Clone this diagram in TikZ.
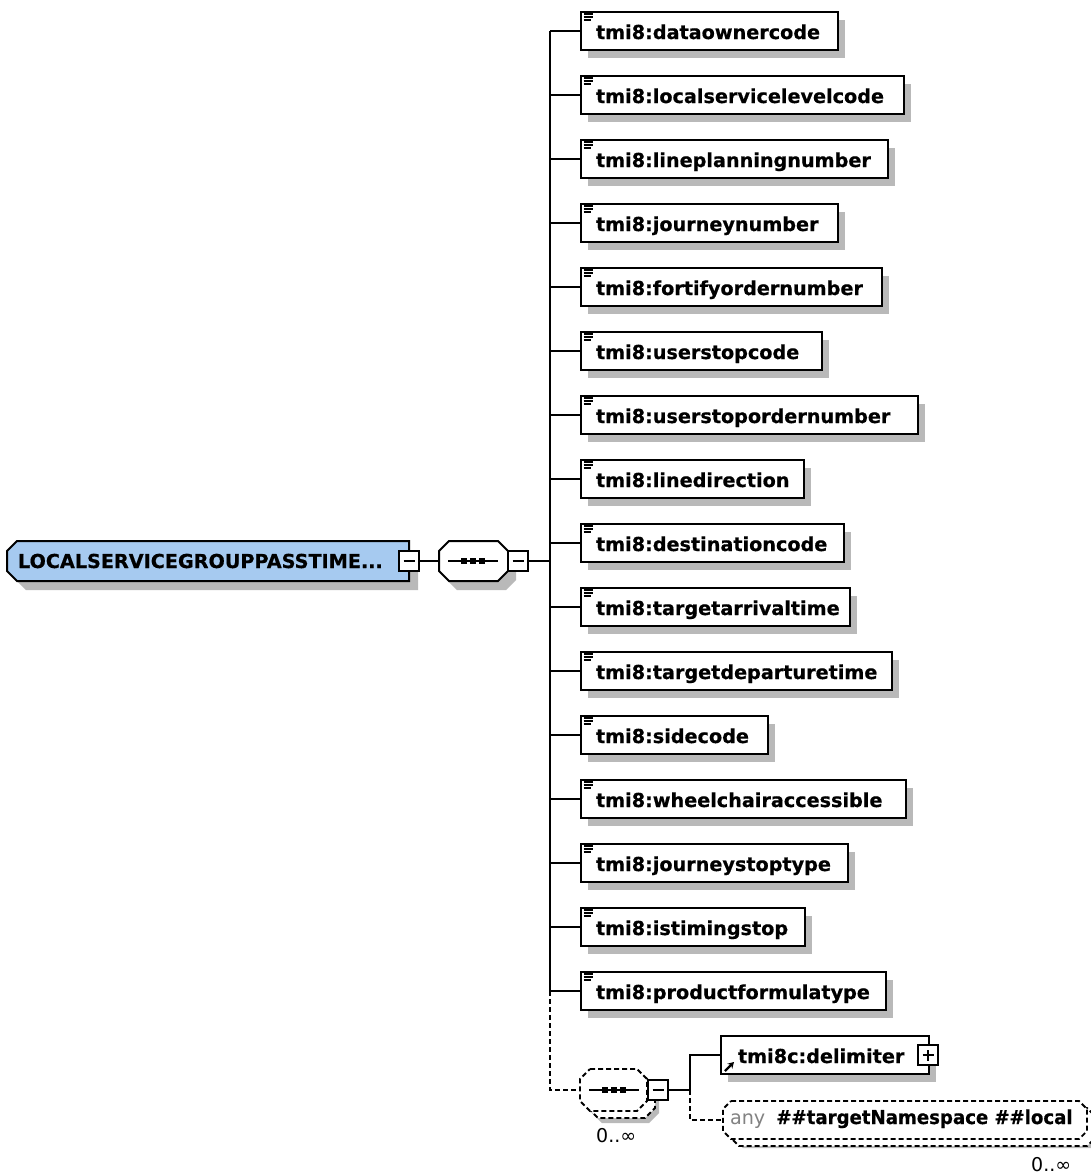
\documentclass[tikz,border=0pt]{standalone}
\usepackage{fontspec}
\usepackage{graphicx}
\setmainfont{DejaVu Sans}[BoldFeatures={FakeBold=0.6}]
\usetikzlibrary{calc,arrows.meta}

\definecolor{shadowgray}{RGB}{185,185,185}
\definecolor{rootfill}{RGB}{166,202,240}
\definecolor{anygray}{RGB}{130,130,130}

\newcommand\diagfont{\fontsize{19.2}{23}\selectfont\bfseries}
\newcommand\occfont{\fontsize{19}{22}\selectfont}

% octagon from (x1,y1) to (x2,y2) with chamfer c: [style]{x1}{y1}{x2}{y2}{c}
\newcommand\octagon[6][]{%
  \path[#1] (#2+#6,#3) -- (#4-#6,#3) -- (#4,#3+#6) -- (#4,#5-#6) --
    (#4-#6,#5) -- (#2+#6,#5) -- (#2,#5-#6) -- (#2,#3+#6) -- cycle;}

% sequence symbol: a line with three dots, centred at (x,y)
\newcommand\seqsymbol[2]{%
  \draw[line width=2pt, solid] (#1-25,#2) -- (#1+25,#2);
  \foreach \d in {-9,0,9}
    \fill (#1+\d-3,#2-3) rectangle (#1+\d+3,#2+3);}

\tikzset{
  conn/.style={line width=2pt, black},
  optconn/.style={conn, dash pattern=on 5pt off 3pt},
  outline/.style={draw, line width=2pt, fill=white},
  dashoutline/.style={draw, line width=1.8pt, fill=white, dash pattern=on 5pt off 3pt},
  frame/.style={rectangle, draw=none, inner sep=0pt},
  elem/.style={draw, line width=2pt, fill=white, rectangle, anchor=west,
    minimum height=38pt, inner xsep=15pt, inner ysep=0pt,
    text height=18pt, text depth=2pt, align=left, font=\diagfont},
  btn/.style={draw=black, solid, fill=white, line width=2pt, minimum size=20pt, inner sep=0pt,
    path picture={\draw[line width=2pt, black, solid]
      ([xshift=-5.5pt]path picture bounding box.center) --
      ([xshift=5.5pt]path picture bounding box.center);}},
  plusbtn/.style={draw=black, solid, fill=white, line width=2pt, minimum size=20pt, inner sep=0pt,
    path picture={\draw[line width=2pt, black, solid]
      ([xshift=-5.5pt]path picture bounding box.center) --
      ([xshift=5.5pt]path picture bounding box.center)
      ([yshift=-5.5pt]path picture bounding box.center) --
      ([yshift=5.5pt]path picture bounding box.center);}},
  occ/.style={font=\occfont, anchor=west, inner sep=0pt},
}

\begin{document}
\begin{tikzpicture}[x=1pt, y=-1pt]
\useasboundingbox (0,0) rectangle (1091,1176);
\fill[white] (0,0) rectangle (1091,1176);

% ---- root element ----
\fill[shadowgray] (26,550) -- (418,550) -- (418,590) -- (26,590) -- (16,580) -- (16,560) -- cycle;
\draw[line width=2pt, fill=rootfill] (17,541) -- (409,541) -- (409,581) -- (17,581) -- (7,571) -- (7,551) -- cycle;
\node[frame, font=\diagfont, text width=380pt, align=left, minimum width=402pt,
      minimum height=40pt, text height=16pt, text depth=2pt] (root) at (208,561)
      {LOCALSERVICEGROUPPASSTIME...};
\node[btn] (rb) at (409,561) {};

% ---- sequence compositor ----
\octagon[fill=shadowgray]{447}{550}{516}{590}{10}
\octagon[outline]{439}{541}{508}{581}{10}
\node[frame, minimum width=69pt, minimum height=40pt] (seq) at (473.5,561) {};
\seqsymbol{473}{561}
\node[btn] (sb) at (518,561) {};

\draw[conn] (rb.east) -- (seq.west);
\coordinate (tk) at (550,0);
\draw[conn] (sb.east) -- (tk |- sb.east);

% ---- child elements ----
\foreach \nm/\w [count=\i] in {dataownercode/257, localservicelevelcode/323,
    lineplanningnumber/307, journeynumber/257, fortifyordernumber/301,
    userstopcode/241, userstopordernumber/337, linedirection/223,
    destinationcode/263, targetarrivaltime/269, targetdeparturetime/311,
    sidecode/187, wheelchairaccessible/325, journeystoptype/267,
    istimingstop/224, productformulatype/305}{
  \pgfmathsetmacro\yc{31+64*(\i-1)}
  \pgfmathsetmacro\tw{\w-30}
  \fill[shadowgray] (588,\yc-11) rectangle (580+\w+8,\yc+27);
  \node[elem, text width=\tw pt] (e\i) at (580,\yc) {tmi8:\nm};
  \foreach \dy/\len in {3/9,6/9,9/7}
    \draw[line width=1.4pt] ($(e\i.north west)+(3.5,\dy)$) -- +(\len,0);
  \draw[conn] (tk |- e\i.west) -- (e\i.west);
}
\draw[conn] (tk |- e1.west) -- (tk |- e16.west);

% ---- optional repeated sequence ----
\octagon[fill=shadowgray]{592}{1082}{659}{1123}{10}
\octagon[dashoutline]{588}{1077}{655}{1118}{10}
\octagon[dashoutline]{580}{1069}{647}{1111}{10}
\node[frame, minimum width=67pt, minimum height=42pt] (oseq) at (613.5,1090) {};
\seqsymbol{614}{1090}
\node[btn] (ob) at (658,1090) {};
\node[occ] (occ1) at (596,1136) {0..∞};

\draw[optconn] (tk |- e16.west) -- (tk |- oseq.west) -- (oseq.west);

% ---- delimiter reference ----
\fill[shadowgray] (728,1044) rectangle (936,1082);
\node[elem, inner xsep=17pt, text width=174pt] (del) at (720,1055) {tmi8c:delimiter};
\draw[line width=2.2pt, -{Stealth[length=6pt,width=7pt]}]
  ($(del.south west)+(5,-4)$) -- +(9,-9);
\node[plusbtn] (db) at (928,1055) {};

% ---- any wildcard ----
\octagon[fill=shadowgray]{735}{1110}{1099}{1148}{8}
\octagon[dashoutline]{731}{1108}{1095}{1146}{8}
\octagon[dashoutline]{723}{1101}{1087}{1139}{8}
\node[frame, font=\diagfont, text width=350pt, align=left, minimum width=364pt,
      minimum height=38pt, text height=14pt, text depth=6pt] (any) at (905,1120)
      {{\mdseries\color{anygray}any}\hspace{11pt}\scalebox{0.945}[1]{\#\#targetNamespace \#\#local}};
\node[occ] (occ2) at (1031,1165) {0..∞};

\coordinate (fork) at (690,1090);
\draw[conn] (ob.east) -- (fork) |- (del.west);
\draw[optconn] (fork) |- (any.west);
\end{tikzpicture}
\end{document}
